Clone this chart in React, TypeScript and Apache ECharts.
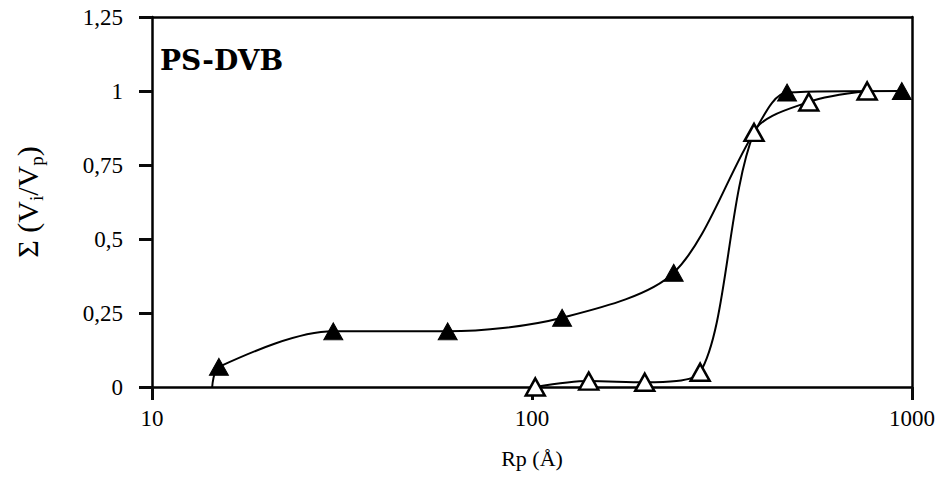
import React, { useEffect, useRef } from "react";
import * as echarts from "echarts";

// Tick labels
const xTickLabels = ["10", "100", "1000"];
const yTickLabels = ["0", "0,25", "0,5", "0,75", "1", "1,25"];

// Filled triangles series
const filledRp = [15, 30, 60, 120, 236, 384, 469, 940];
const filledSum = [0.068, 0.188, 0.188, 0.234, 0.386, 0.86, 0.995, 1.0];
// the drawn curve begins on the axis just left of the first marker
const filledCurveStart = [14.4, 0];

// Open triangles series
const openRp = [102, 141, 198, 277, 384, 535, 762];
const openSum = [0, 0.02, 0.016, 0.05, 0.86, 0.963, 1.0];

const SERIF = "'Liberation Serif', 'Times New Roman', serif";

function axisLine() {
  return { show: true, onZero: false, lineStyle: { color: "#000", width: 2.5 } };
}
function majorTick() {
  return { show: true, length: 13, lineStyle: { color: "#0a0a0a", width: 3 } };
}

export default function App() {
  const ref = useRef<HTMLDivElement>(null);

  useEffect(() => {
    if (!ref.current) return;
    const chart = echarts.init(ref.current, null, { renderer: "svg" });

    const filledData: any[] = [
      { value: filledCurveStart, symbol: "none" },
      ...filledRp.map((x, i) => [x, filledSum[i]]),
    ];
    const openData = openRp.map((x, i) => [x, openSum[i]]);

    chart.setOption({
      animation: false,
      backgroundColor: "#fff",
      grid: { left: 152, right: 29, top: 17, bottom: 90, containLabel: false },
      xAxis: [
        {
          type: "log",
          logBase: 10,
          min: 10,
          max: 1000,
          axisLine: axisLine(),
          axisTick: majorTick(),
          minorTick: { show: false },
          splitLine: { show: false },
          axisLabel: {
            color: "#000",
            fontFamily: SERIF,
            fontSize: 23,
            margin: 20,
            formatter: (v: number) => xTickLabels[Math.round(Math.log10(v)) - 1] ?? String(v),
          },
          name: "Rp (Å)",
          nameLocation: "middle",
          nameGap: 60,
          nameTextStyle: { color: "#000", fontFamily: SERIF, fontSize: 22 },
        },
        {
          type: "log",
          logBase: 10,
          min: 10,
          max: 1000,
          position: "top",
          axisLine: axisLine(),
          axisTick: { show: false },
          axisLabel: { show: false },
          splitLine: { show: false },
        },
      ],
      yAxis: [
        {
          type: "value",
          min: 0,
          max: 1.25,
          interval: 0.25,
          axisLine: axisLine(),
          axisTick: majorTick(),
          splitLine: { show: false },
          axisLabel: {
            color: "#000",
            fontFamily: SERIF,
            fontSize: 23,
            margin: 29,
            formatter: (v: number) => yTickLabels[Math.round(v / 0.25)] ?? String(v),
          },
          name: "{a|Σ (V}{s|i}{a|/V}{s|p}{a|)}",
          nameLocation: "middle",
          nameGap: 106,
          nameRotate: 90,
          nameTextStyle: {
            color: "#000",
            fontFamily: SERIF,
            rich: {
              a: { fontFamily: SERIF, fontSize: 30, color: "#000", lineHeight: 38 },
              s: { fontFamily: SERIF, fontSize: 19, color: "#000", lineHeight: 19, verticalAlign: "bottom" },
            },
          },
        },
        {
          type: "value",
          min: 0,
          max: 1.25,
          interval: 0.25,
          position: "right",
          axisLine: axisLine(),
          axisTick: { show: false },
          axisLabel: { show: false },
          splitLine: { show: false },
        },
      ],
      graphic: [
        {
          type: "text",
          left: 160,
          top: 46,
          style: {
            text: "PS-DVB",
            fill: "#000",
            font: "bold 28px 'DejaVu Serif', serif",
          },
        },
      ],
      series: [
        {
          type: "line",
          data: filledData,
          smooth: 0.3,
          symbol: "triangle",
          symbolSize: [19, 17],
          lineStyle: { color: "#000", width: 2 },
          itemStyle: { color: "#000", borderColor: "#000", borderWidth: 1 },
          z: 3,
        },
        {
          type: "line",
          data: openData,
          smooth: 0.3,
          symbol: "triangle",
          symbolSize: [19, 17],
          lineStyle: { color: "#000", width: 2 },
          itemStyle: { color: "#fff", borderColor: "#000", borderWidth: 2.5 },
          z: 4,
        },
      ],
    });

    return () => chart.dispose();
  }, []);

  return (
    <div
      ref={ref}
      style={{ position: "fixed", left: 0, top: 0, width: 941, height: 477, background: "#fff" }}
    />
  );
}
